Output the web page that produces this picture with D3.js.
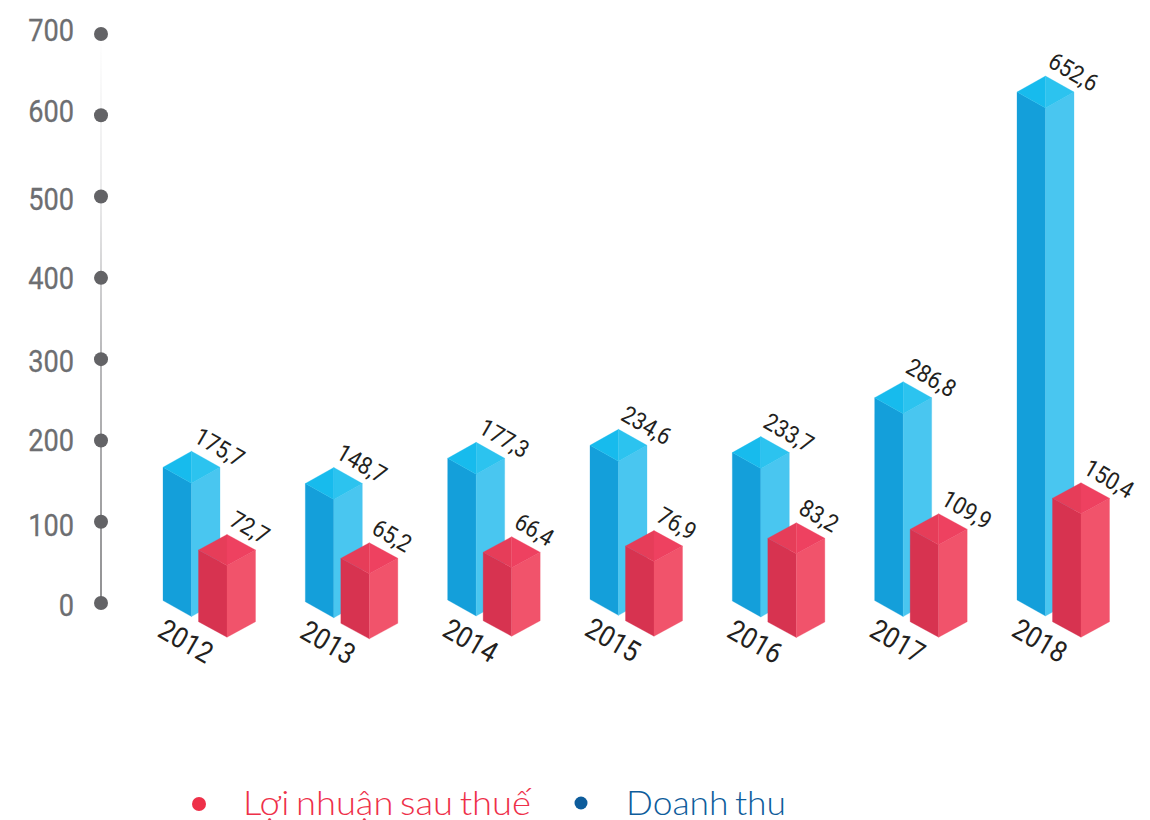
<!DOCTYPE html>
<html lang="vi">
<head>
<meta charset="utf-8">
<title>Doanh thu và lợi nhuận sau thuế 2012–2018</title>
<script src="https://cdn.jsdelivr.net/npm/d3@7/dist/d3.min.js"></script>
<style>
html,body{margin:0;padding:0;background:#fff}
svg{display:block}
</style>
</head>
<body>
<svg id="chart" width="1150" height="820"></svg>
<script>
// Category and tick labels
const years = ["2012","2013","2014","2015","2016","2017","2018"];
const axisTicks = [0,100,200,300,400,500,600,700];

// Values printed on the chart
const doanhThu = [175.7,148.7,177.3,234.6,233.7,286.8,652.6];
const loiNhuan = [72.7,65.2,66.4,76.9,83.2,109.9,150.4];

// The reference's bars are hand-drawn and not proportional to the printed values,
// so their tops and bases are read separately against the axis, in axis units.
const doanhThuTop  = [167,147,178,194,185,252.5,628.6];
const doanhThuBase = [3,1.5,3.7,4.5,2.5,3,3.7];
const loiNhuanTop  = [65.2,55,62.4,70,79.6,90.7,128.8];
const loiNhuanBase = [-23,-25,-21.8,-21.8,-23.4,-23,-23];

const legendLabels = ["Lợi nhuận sau thuế","Doanh thu"];

const svg = d3.select("#chart");
const y = d3.scaleLinear().domain([0,700]).range([603,34]);
const x = d3.scalePoint().domain(years).range([163,1017]);
const axisX = 101, halfW = 28.5, redShift = 35.5;
const fmt = d3.formatLocale({decimal:",",thousands:".",grouping:[3],currency:["",""]}).format(".1f");

// Axis line fading toward the top
const grad = svg.append("defs").append("linearGradient")
  .attr("id","axisFade").attr("gradientUnits","userSpaceOnUse")
  .attr("x1",0).attr("x2",0).attr("y1",y(700)).attr("y2",y(0));
[[0,"#ffffff"],[0.3,"#e6e6e7"],[0.55,"#b4b4b6"],[1,"#858587"]].forEach(([o,c])=>
  grad.append("stop").attr("offset",o).attr("stop-color",c));
svg.append("rect").attr("x",axisX-0.9).attr("width",1.8)
  .attr("y",y(700)).attr("height",y(0)-y(700)).attr("fill","url(#axisFade)");

svg.append("g").selectAll("circle").data(axisTicks).join("circle")
  .attr("cx",axisX).attr("cy",d=>y(d)).attr("r",7).attr("fill","#636366");

// Axis labels
const tickNudge = {0:1,100:2,200:-1,300:1,400:-1,500:1.5,600:-5,700:-5};
const axisG = svg.append("g").attr("transform","translate(74,0)")
  .call(d3.axisLeft(y).tickValues(axisTicks).tickSize(0).tickPadding(0).tickFormat(d3.format("d")));
axisG.select(".domain").remove();
axisG.selectAll(".tick text")
  .attr("x",0).attr("dy",null).attr("dominant-baseline",null)
  .attr("text-anchor","end")
  .attr("font-family","Roboto, sans-serif").attr("font-size",32).attr("font-weight",400)
  .attr("fill","#6d6e71").attr("stroke","#6d6e71").attr("stroke-width",0.3)
  .attr("transform",d=>`translate(0,${11.5+tickNudge[d]}) scale(0.85,1)`);

// Isometric box
function box(g,xl,top,base,d,cols){
  const w=halfW, yT=y(top), yB=y(base);
  const pts=a=>a.map(p=>p.join(",")).join(" ");
  const faces=[
    [[[xl,yT],[xl+w,yT+d],[xl+w,yB+d],[xl,yB]],cols[0]],
    [[[xl+w,yT+d],[xl+2*w,yT],[xl+2*w,yB],[xl+w,yB+d]],cols[1]],
    [[[xl,yT],[xl+w,yT-d],[xl+w,yT+d]],cols[2]],
    [[[xl+w,yT-d],[xl+2*w,yT],[xl+w,yT+d]],cols[3]]
  ];
  faces.forEach(([p,c])=>g.append("polygon").attr("points",pts(p))
    .attr("fill",c).attr("stroke",c).attr("stroke-width",0.3));
}
const blueCols=["#149fda","#49c6f0","#17bbed","#2cc3ef"];
const redCols=["#d73350","#f1536b","#e63d59","#ee4160"];

function valueLabel(g,px,py,v){
  g.append("text").attr("transform",`translate(${px},${py}) rotate(30) scale(0.9,1)`)
    .attr("font-family","Roboto, sans-serif").attr("font-size",24)
    .attr("fill","#231f20").text(fmt(v));
}

years.forEach((yr,i)=>{
  const g=svg.append("g").attr("class","year");
  const xb=x(yr), xr=xb+redShift;
  box(g,xb,doanhThuTop[i],doanhThuBase[i],16,blueCols);
  box(g,xr,loiNhuanTop[i],loiNhuanBase[i],15.5,redCols);
  valueLabel(g,xb+halfW+1,y(doanhThuTop[i])-16-10,doanhThu[i]);
  valueLabel(g,xr+halfW+1,y(loiNhuanTop[i])-15.5-10,loiNhuan[i]);
  g.append("text").attr("transform",`translate(${xb-7},${y(doanhThuBase[i])+35}) rotate(30) scale(0.88,1)`)
    .attr("font-family","Roboto, sans-serif").attr("font-size",29)
    .attr("fill","#231f20").text(yr);
});

// Legend
const legendColors=["#ee3049","#0d5c9b"];
const legendDots=[[199,804,7],[581,803,6.5]];
const legendText=[[243,288],[626,160]];
legendLabels.forEach((t,i)=>{
  svg.append("circle").attr("cx",legendDots[i][0]).attr("cy",legendDots[i][1]).attr("r",legendDots[i][2])
    .attr("fill",legendColors[i]);
  svg.append("text").attr("x",legendText[i][0]).attr("y",815)
    .attr("textLength",legendText[i][1]).attr("lengthAdjust","spacingAndGlyphs")
    .attr("font-family","Lato, sans-serif").attr("font-weight",300).attr("font-size",34)
    .attr("word-spacing",-3)
    .attr("fill",legendColors[i]).text(t);
});
</script>
</body>
</html>
